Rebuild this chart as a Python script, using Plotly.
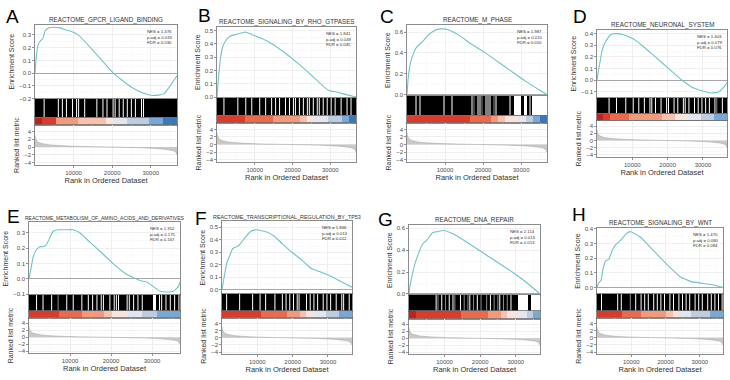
import plotly.graph_objects as go

# ---------------- DATA ----------------
X_MAX = 36800
panel_letters = ["A", "B", "C", "D", "E", "F", "G", "H"]
panel_titles = [
    "REACTOME_GPCR_LIGAND_BINDING",
    "REACTOME_SIGNALING_BY_RHO_GTPASES",
    "REACTOME_M_PHASE",
    "REACTOME_NEURONAL_SYSTEM",
    "REACTOME_METABOLISM_OF_AMINO_ACIDS_AND_DERIVATIVES",
    "REACTOME_TRANSCRIPTIONAL_REGULATION_BY_TP53",
    "REACTOME_DNA_REPAIR",
    "REACTOME_SIGNALING_BY_WNT",
]
nes_values = ["1.476", "1.841", "1.987", "1.403", "1.352", "1.866", "2.114", "1.470"]
padj_values = ["0.033", "0.049", "0.010", "0.079", "0.175", "0.013", "0.013", "0.080"]
fdr_values = ["0.030", "0.045", "0.010", "0.076", "0.167", "0.012", "0.013", "0.084"]

es_x_A = [0, 300, 800, 1300, 2000, 2600, 3500, 4800, 6500, 7800, 9100, 11200, 15000, 20300, 25000, 28000, 30500, 32000, 33500, 35000, 36800]
es_y_A = [0, 0.12, 0.22, 0.25, 0.27, 0.33, 0.355, 0.36, 0.355, 0.34, 0.33, 0.30, 0.18, 0.0, -0.11, -0.155, -0.175, -0.172, -0.16, -0.10, -0.02]
es_x_B = [0, 400, 880, 1320, 2200, 3500, 4900, 6200, 7500, 9300, 11900, 14600, 18100, 21600, 25200, 27800, 29600, 31300, 34000, 36800]
es_y_B = [0, 0.15, 0.28, 0.36, 0.42, 0.46, 0.47, 0.48, 0.49, 0.47, 0.44, 0.40, 0.33, 0.25, 0.16, 0.09, 0.05, 0.04, 0.02, 0.0]
es_x_C = [0, 300, 880, 1750, 2600, 3900, 5300, 6600, 7900, 9200, 11000, 13600, 17100, 20600, 24100, 27600, 31100, 34600, 36800]
es_y_C = [0, 0.15, 0.30, 0.40, 0.46, 0.50, 0.56, 0.60, 0.625, 0.63, 0.62, 0.57, 0.48, 0.40, 0.31, 0.22, 0.13, 0.05, 0.0]
es_x_D = [0, 400, 940, 1400, 2400, 3800, 5200, 7500, 9900, 12700, 16500, 20300, 24100, 26900, 29700, 32500, 34400, 35900, 36800]
es_y_D = [0, 0.08, 0.17, 0.25, 0.33, 0.39, 0.40, 0.39, 0.36, 0.30, 0.20, 0.10, 0.0, -0.06, -0.09, -0.11, -0.10, -0.06, -0.02]
es_x_E = [0, 570, 980, 1800, 2600, 3400, 4200, 5100, 5900, 7100, 9100, 10800, 12400, 14800, 17300, 20500, 23800, 27000, 28700, 30300, 31900, 33500, 35200, 36400, 36800]
es_y_E = [0, 0.08, 0.14, 0.19, 0.21, 0.21, 0.22, 0.27, 0.31, 0.32, 0.32, 0.32, 0.30, 0.24, 0.18, 0.10, 0.03, -0.01, -0.02, -0.05, -0.08, -0.085, -0.08, -0.05, -0.02]
es_x_F = [0, 400, 920, 1400, 2300, 3000, 3700, 4600, 5500, 6900, 8300, 9700, 11000, 12900, 14700, 17000, 19800, 22500, 25300, 28100, 29900, 32700, 35400, 36800]
es_y_F = [0, 0.07, 0.15, 0.22, 0.28, 0.33, 0.34, 0.35, 0.38, 0.43, 0.47, 0.48, 0.475, 0.46, 0.43, 0.37, 0.30, 0.24, 0.17, 0.14, 0.12, 0.08, 0.04, 0.02]
es_x_G = [0, 300, 940, 1900, 2800, 3700, 5200, 6600, 8000, 9800, 11700, 14500, 18300, 22000, 25800, 29500, 33200, 36800]
es_y_G = [0, 0.08, 0.18, 0.30, 0.38, 0.45, 0.50, 0.56, 0.57, 0.58, 0.56, 0.51, 0.43, 0.35, 0.27, 0.19, 0.10, 0.0]
es_x_H = [0, 490, 1180, 1800, 2450, 3400, 4400, 5400, 6900, 8300, 9600, 10800, 12800, 15700, 18600, 21600, 24500, 27500, 30400, 33400, 35300, 36800]
es_y_H = [0, 0.03, 0.05, 0.13, 0.18, 0.19, 0.25, 0.29, 0.32, 0.36, 0.38, 0.37, 0.34, 0.27, 0.20, 0.13, 0.07, 0.04, 0.03, 0.02, 0.01, 0.0]

# barcode bins along the ranked list: '#' dense hits, '+' gap line, '-' faint gap line, '.' no hits
barcode_A = "####+#####" "#.#+#.##+#" ".+##.#####" ".##+#.##.+" "#.#+#.#.#+" "##.+######" "##########"
barcode_B = "###+######" "+###.##+##" "#.##+##.#+" "#.##+#.#.+" "#.#.#+.#+#" ".+#.#+#.#+" "##.##+#.##"
barcode_C = "####+#.###" "########+#" "##.#######" "##+-#.+-#." "+.#-+#####" "#+#....#.." "#+........"
barcode_D = "######+###" ".####+###." "##+##.##+." "#+##.##+.#" "#.#+##.+#." "##+#.#+#.#" "+##.-##+##"
barcode_E = "###+##+###" "+##-###+##" "+###+##+#+" "#.#.+##.#." "+.###.+#.#" ".#.####..#" "+.#.#+#.#."
barcode_F = "##+######+" "######+###" "+##+####+#" "##.#+#.#.#" "+.###.#.#+" "#.##.#+#.#" "#.##.+##.#"
barcode_G = "##########" "####+-#+#-" "#+#+-##+#-" "#-+#-#+#-#" "#-#+#-#-+#" "-#-#+###.." "....#....."
barcode_H = "##+#######" "#+#+####-#" "#+##+#+#.#" "#+#.#+#.##" "+#.##+#.#+" "#.##+#+#.#" "#.#+#.#.#."

# colour band classes (0 = strongly up ... 9 = strongly down)
band_A = "01133344445667778899"
band_B = "11112222333345667789"
band_C = "11111111122234556789"
band_D = "01222333334455667788"
band_E = "11112223334556677888"
band_F = "11111122223345667788"
band_G = "01111111222233455678"
band_H = "11112223333456677788"

# ranked list metric (shared)
rank_x = [0, 150, 400, 800, 1500, 2500, 4000, 6000, 9000, 13000, 18000, 22000, 26000, 30000, 33000, 35000, 36000, 36500, 36800]
rank_y = [3.0, 2.2, 1.7, 1.3, 1.0, 0.75, 0.55, 0.4, 0.25, 0.12, 0.02, -0.05, -0.15, -0.3, -0.5, -0.75, -1.0, -1.4, -2.0]
rank_ticks = [10000, 20000, 30000]

es_xs = [es_x_A, es_x_B, es_x_C, es_x_D, es_x_E, es_x_F, es_x_G, es_x_H]
es_ys = [es_y_A, es_y_B, es_y_C, es_y_D, es_y_E, es_y_F, es_y_G, es_y_H]
barcodes = [barcode_A, barcode_B, barcode_C, barcode_D, barcode_E, barcode_F, barcode_G, barcode_H]
bands = [band_A, band_B, band_C, band_D, band_E, band_F, band_G, band_H]

# ---------------- STYLE / LAYOUT ----------------
W, H = 730, 380
# left, right, es_top, es_bottom, barcode_bottom, band_bottom, rank_bottom (px)
geom = [
    (35, 177, 23, 98, 117, 125, 165),
    (217, 356, 25, 97, 115, 123, 162),
    (407, 547, 23, 95, 115, 123, 162),
    (597, 727, 28, 97, 113, 120, 157),
    (29, 180, 223, 297, 313, 320, 356),
    (222, 352, 222, 296, 313, 320, 357),
    (409, 540, 226, 297, 313, 321, 357),
    (597, 723, 229, 296, 313, 320, 357),
]
es_ranges = [(-0.2, 0.38), (-0.005, 0.53), (-0.01, 0.67), (-0.15, 0.434),
             (-0.105, 0.37), (-0.035, 0.55), (-0.01, 0.63), (-0.045, 0.405)]
es_dticks = [0.1, 0.1, 0.2, 0.1, 0.1, 0.1, 0.2, 0.1]
title_sizes = [6.3, 6.3, 6.3, 6.3, 5.0, 5.4, 6.3, 6.3]
letter_pos = [(4, 15), (196, 14), (378, 15), (571, 15), (5, 217), (193, 219), (376, 220), (570, 215)]
palette = ["#c0211f", "#dc3b2c", "#ec6a4c", "#f3997c", "#f6c2ad", "#f7e4dc",
           "#e3e6ef", "#bccde2", "#78a8d6", "#3978bd"]

FONT = "Liberation Sans, Arial, sans-serif"
TICK_FONT = dict(family=FONT, size=6, color="#4d4d4d")
GRID = "#ebebeb"
MINOR = "#f5f5f5"
FRAME = "#6e6e6e"
CURVE = "#6fc4c7"


def xd(l, r):
    return [l / W, r / W]


def yd(t, b):
    return [1 - b / H, 1 - t / H]


def barcode_parts(code, bw):
    """Split barcode bins into: white runs (bars), white gap lines and grey gap lines."""
    runs_x, runs_w, white_lines, grey_lines = [], [], [], []
    i, n = 0, len(code)
    while i < n:
        c = code[i]
        if c == ".":
            j = i
            while j + 1 < n and code[j + 1] == ".":
                j += 1
            if j == i:
                white_lines.append((i + 0.5) * bw)
            else:
                lo = i * bw + (0.25 * bw if i > 0 else 0)
                hi = (j + 1) * bw - (0.25 * bw if j < n - 1 else 0)
                runs_x.append((lo + hi) / 2); runs_w.append(hi - lo)
            i = j + 1
            continue
        if c == "+":
            white_lines.append((i + 0.5) * bw)
        elif c == "-":
            grey_lines.append((i + 0.5) * bw)
        i += 1
    return runs_x, runs_w, white_lines, grey_lines


def seg(xs):
    px, py = [], []
    for x in xs:
        px += [x, x, None]
        py += [0, 1, None]
    return px, py


fig = go.Figure()
layout = {}
annotations = []

for k in range(8):
    l, r, t_es, b_es, b_bc, b_cb, b_rk = geom[k]
    n = 4 * k + 1
    ax = {i: ("" if n + i == 1 else str(n + i)) for i in range(4)}

    fig.add_trace(go.Scatter(x=es_xs[k], y=es_ys[k], mode="lines",
                             line=dict(color=CURVE, width=1.1, shape="spline", smoothing=0.4),
                             xaxis="x" + ax[0], yaxis="y" + ax[0], showlegend=False, hoverinfo="skip"))
    # barcode
    code = barcodes[k]
    bw = X_MAX / len(code)
    rx, rw, wl, gl = barcode_parts(code, bw)
    fig.add_trace(go.Bar(x=[X_MAX / 2] + rx, y=[1] * (len(rx) + 1), base=0,
                         width=[X_MAX] + rw,
                         marker=dict(color=["#000000"] + ["#ffffff"] * len(rx), line=dict(width=0)),
                         showlegend=False, hoverinfo="skip",
                         xaxis="x" + ax[1], yaxis="y" + ax[1]))
    px, py = seg(gl)
    fig.add_trace(go.Scatter(x=px, y=py, mode="lines", line=dict(color="#8c8c8c", width=1),
                             showlegend=False, hoverinfo="skip", xaxis="x" + ax[1], yaxis="y" + ax[1]))
    px, py = seg(wl)
    fig.add_trace(go.Scatter(x=px, y=py, mode="lines", line=dict(color="#ffffff", width=1),
                             showlegend=False, hoverinfo="skip", xaxis="x" + ax[1], yaxis="y" + ax[1]))
    # colour band
    band = bands[k]
    nc = len(band)
    cw = X_MAX / nc
    fig.add_trace(go.Bar(x=[(i + 0.5) * cw for i in range(nc)], y=[1] * nc, base=0,
                         width=[cw * 1.002] * nc,
                         marker=dict(color=[palette[int(c)] for c in band], line=dict(width=0)),
                         showlegend=False, hoverinfo="skip",
                         xaxis="x" + ax[2], yaxis="y" + ax[2]))
    # ranked list metric
    fig.add_trace(go.Scatter(x=rank_x, y=rank_y, mode="lines", fill="tozeroy",
                             fillcolor="#c9c9c9", line=dict(color="#a8a8a8", width=0.6, shape="spline"),
                             showlegend=False, hoverinfo="skip",
                             xaxis="x" + ax[3], yaxis="y" + ax[3]))

    frame = dict(showline=True, mirror=True, linecolor=FRAME, linewidth=0.8)
    xbase = dict(range=[0, X_MAX], domain=xd(l, r), zeroline=False, **frame)
    gridx = dict(showgrid=True, gridcolor=GRID, gridwidth=0.8, tick0=0, dtick=10000,
                 minor=dict(dtick=5000, showgrid=True, gridcolor=MINOR, gridwidth=0.5))

    layout["xaxis" + ax[0]] = dict(anchor="y" + ax[0], showticklabels=False, ticks="", **xbase, **gridx)
    ylo, yhi = es_ranges[k]
    layout["yaxis" + ax[0]] = dict(
        anchor="x" + ax[0], domain=yd(t_es, b_es), range=[ylo, yhi], dtick=es_dticks[k], tick0=0,
        tickformat=".1f", tickfont=TICK_FONT, ticks="outside", ticklen=2, tickcolor="#4d4d4d", tickwidth=0.6,
        showgrid=True, gridcolor=GRID, gridwidth=0.8,
        minor=dict(dtick=es_dticks[k] / 2, showgrid=True, gridcolor=MINOR, gridwidth=0.5),
        zeroline=True, zerolinecolor="#a6a6a6", zerolinewidth=1,
        title=dict(text="Enrichment Score", font=dict(family=FONT, size=7, color="#333333"), standoff=3),
        **frame)
    layout["xaxis" + ax[1]] = dict(anchor="y" + ax[1], showticklabels=False, ticks="", showgrid=False, **xbase)
    layout["yaxis" + ax[1]] = dict(anchor="x" + ax[1], domain=yd(b_es, b_bc), range=[0, 1],
                                   showticklabels=False, ticks="", showgrid=False, zeroline=False, **frame)
    layout["xaxis" + ax[2]] = dict(anchor="y" + ax[2], showticklabels=False, ticks="", showgrid=False, **xbase)
    layout["yaxis" + ax[2]] = dict(anchor="x" + ax[2], domain=yd(b_bc, b_cb), range=[0, 1],
                                   showticklabels=False, ticks="", showgrid=False, zeroline=False, **frame)
    layout["xaxis" + ax[3]] = dict(
        anchor="y" + ax[3], tickvals=rank_ticks, ticktext=[str(v) for v in rank_ticks],
        tickfont=TICK_FONT, ticks="outside", ticklen=2, tickcolor="#4d4d4d", tickwidth=0.6,
        title=dict(text="Rank in Ordered Dataset", font=dict(family=FONT, size=7.5, color="#333333"), standoff=1),
        **xbase, **gridx)
    layout["yaxis" + ax[3]] = dict(
        anchor="x" + ax[3], domain=yd(b_cb, b_rk), range=[-4.6, 5.6], tickvals=[-4, -2, 0, 2, 4],
        tickfont=TICK_FONT, ticks="outside", ticklen=2, tickcolor="#4d4d4d", tickwidth=0.6,
        showgrid=True, gridcolor=GRID, gridwidth=0.8, zeroline=False,
        minor=dict(tickvals=[-3, -1, 1, 3], showgrid=True, gridcolor=MINOR, gridwidth=0.5),
        title=dict(text="Ranked list metric", font=dict(family=FONT, size=7, color="#333333"), standoff=3),
        **frame)

    annotations.append(dict(text=panel_titles[k], xref="x" + ax[0] + " domain", yref="y" + ax[0] + " domain",
                            x=0.5, y=1, xanchor="center", yanchor="bottom", yshift=-1, showarrow=False,
                            font=dict(family=FONT, size=title_sizes[k], color="#333333")))
    annotations.append(dict(text="NES = %s<br>p.adj = %s<br>FDR = %s" % (nes_values[k], padj_values[k], fdr_values[k]),
                            xref="x" + ax[0] + " domain", yref="y" + ax[0] + " domain",
                            x=0.985, y=0.97, xanchor="right", yanchor="top", align="left", showarrow=False,
                            font=dict(family=FONT, size=4.3, color="#333333")))
    lx, ly = letter_pos[k]
    annotations.append(dict(text=panel_letters[k], xref="paper", yref="paper", x=lx / W, y=1 - ly / H,
                            xanchor="left", yanchor="middle", showarrow=False,
                            font=dict(family=FONT, size=19, color="#000000")))

fig.update_layout(**layout)
fig.update_layout(width=W, height=H, margin=dict(l=0, r=0, t=0, b=0),
                  paper_bgcolor="white", plot_bgcolor="white", barmode="overlay", bargap=0,
                  annotations=annotations, showlegend=False, hovermode=False,
                  font=dict(family=FONT, color="#333333"))

fig.write_html("out.html", config={"displayModeBar": False, "staticPlot": True},
               post_script="document.body.style.margin='0px';document.body.style.padding='0px';"
                           "document.body.style.overflow='hidden';")
